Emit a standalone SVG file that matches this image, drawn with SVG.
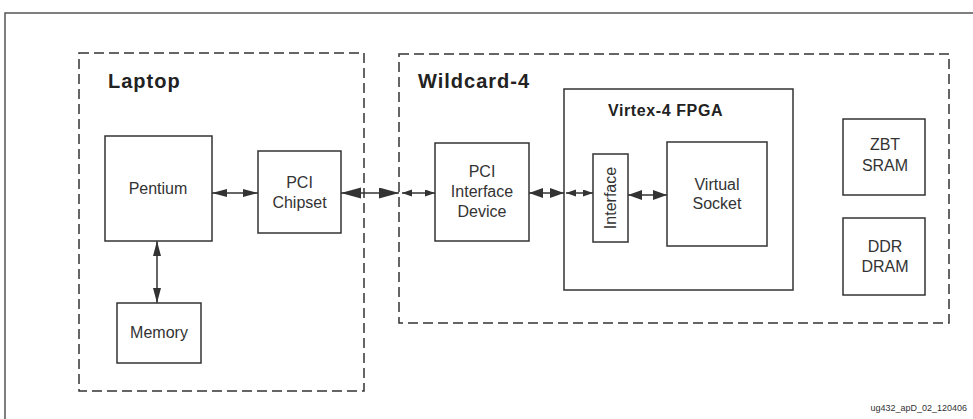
<svg xmlns="http://www.w3.org/2000/svg" width="973" height="419" viewBox="0 0 973 419">
<style>
.box{fill:none;stroke:#333;stroke-width:1.5}
.dash{fill:none;stroke:#333;stroke-width:1.5;stroke-dasharray:10,5}
.t{font-family:"Liberation Sans",Arial,sans-serif;font-size:16px;fill:#333;text-anchor:middle}
.title{font-family:"Liberation Sans",Arial,sans-serif;font-size:20px;font-weight:bold;fill:#222;letter-spacing:1px}
.sub{font-family:"Liberation Sans",Arial,sans-serif;font-size:16px;font-weight:bold;fill:#222;letter-spacing:0.6px}
.c{stroke:#333;stroke-width:1.5;fill:none}
.cap{font-family:"Liberation Sans",Arial,sans-serif;font-size:9px;fill:#333}
</style>
<defs>
<marker id="m" markerUnits="userSpaceOnUse" markerWidth="16" markerHeight="10" refX="15" refY="4" orient="auto-start-reverse"><path d="M0,0 L15,4 L0,8 Z" fill="#333"/></marker>
<marker id="big" markerUnits="userSpaceOnUse" markerWidth="22" markerHeight="12" refX="20" refY="5.5" orient="auto-start-reverse"><path d="M0,0 L20,5.5 L0,11 Z" fill="#333"/></marker>
<marker id="mid" markerUnits="userSpaceOnUse" markerWidth="15" markerHeight="11" refX="14" refY="5" orient="auto-start-reverse"><path d="M0,0 L14,5 L0,10 Z" fill="#333"/></marker>
<marker id="tiny" markerUnits="userSpaceOnUse" markerWidth="11" markerHeight="8" refX="10" refY="3.5" orient="auto-start-reverse"><path d="M0,0 L10,3.5 L0,7 Z" fill="#333"/></marker>
</defs>
<rect width="973" height="419" fill="#ffffff"/>
<path d="M5,419 V13 H973" fill="none" stroke="#555" stroke-width="1.5"/>

<g id="laptop">
<rect class="dash" x="79" y="53" width="285" height="338"/>
<text class="title" x="108" y="88">Laptop</text>
</g>
<g id="wildcard4">
<rect class="dash" x="399" y="54" width="550" height="269"/>
<text class="title" x="418" y="88">Wildcard-4</text>
</g>
<g id="pentium">
<rect class="box" x="105" y="136" width="107" height="105"/>
<text class="t" x="158" y="194">Pentium</text>
</g>
<g id="pci-chipset">
<rect class="box" x="258" y="151" width="83" height="82"/>
<text class="t" x="299.5" y="188">PCI</text>
<text class="t" x="299.5" y="208">Chipset</text>
</g>
<g id="memory">
<rect class="box" x="117" y="303" width="84" height="60"/>
<text class="t" x="159" y="338">Memory</text>
</g>
<g id="pci-interface-device">
<rect class="box" x="435" y="143" width="94" height="98"/>
<text class="t" x="482" y="177">PCI</text>
<text class="t" x="482" y="197">Interface</text>
<text class="t" x="482" y="217">Device</text>
</g>
<g id="virtex4-fpga">
<rect class="box" x="564" y="89" width="229" height="201"/>
<text class="sub" x="608" y="116">Virtex-4 FPGA</text>
</g>
<g id="interface">
<rect class="box" x="593" y="154" width="35" height="88"/>
<text class="t" transform="translate(616,198) rotate(-90)" x="0" y="0">Interface</text>
</g>
<g id="virtual-socket">
<rect class="box" x="667" y="142" width="100" height="104"/>
<text class="t" x="717" y="190">Virtual</text>
<text class="t" x="717" y="209">Socket</text>
</g>
<g id="zbt-sram">
<rect class="box" x="843" y="119" width="82" height="76"/>
<text class="t" x="885" y="150">ZBT</text>
<text class="t" x="885" y="171">SRAM</text>
</g>
<g id="ddr-dram">
<rect class="box" x="843" y="218" width="82" height="77"/>
<text class="t" x="885" y="252">DDR</text>
<text class="t" x="885" y="272">DRAM</text>
</g>

<g id="connectors">
<line class="c" x1="212" y1="193" x2="258" y2="193" marker-start="url(#m)" marker-end="url(#m)"/>
<line class="c" x1="157" y1="241" x2="157" y2="303" marker-start="url(#m)" marker-end="url(#m)"/>
<line class="c" x1="341" y1="193" x2="399" y2="193" marker-start="url(#big)" marker-end="url(#big)"/>
<line class="c" x1="402" y1="193" x2="435" y2="193" marker-start="url(#tiny)" marker-end="url(#tiny)"/>
<line class="c" x1="529" y1="193" x2="564" y2="193" marker-start="url(#mid)" marker-end="url(#mid)"/>
<line class="c" x1="566" y1="193" x2="593" y2="193" marker-start="url(#tiny)" marker-end="url(#tiny)"/>
<line class="c" x1="628" y1="195" x2="667" y2="195" marker-start="url(#mid)" marker-end="url(#mid)"/>
</g>
<text class="cap" x="967" y="411" text-anchor="end">ug432_apD_02_120406</text>
</svg>
